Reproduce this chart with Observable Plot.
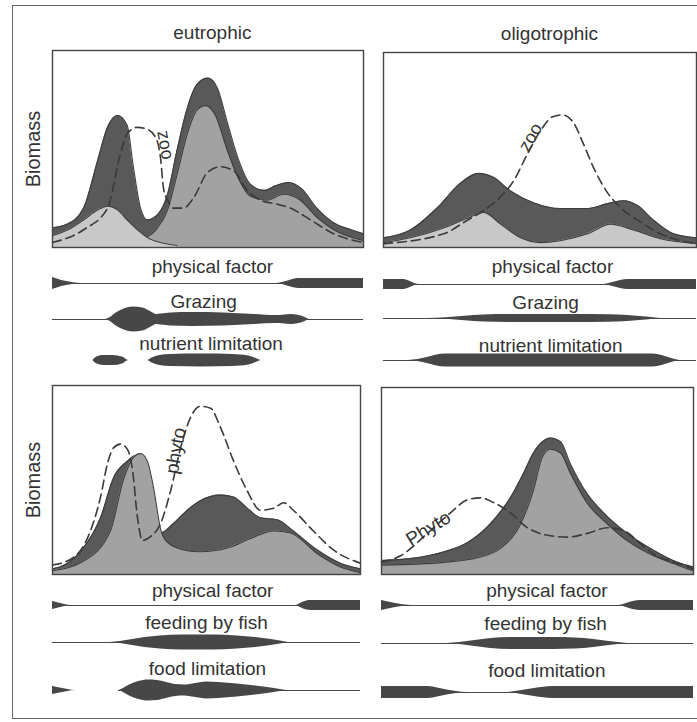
<!DOCTYPE html>
<html>
<head>
<meta charset="utf-8">
<script src="https://cdn.jsdelivr.net/npm/d3@7"></script>
<script src="https://cdn.jsdelivr.net/npm/@observablehq/plot@0.6"></script>
<style>
  body { margin: 0; background: #fff; }
  #c { position: relative; width: 697px; height: 722px; overflow: hidden; background: #fff;
       font-family: "Liberation Sans", Arial, sans-serif; }
  #border { position: absolute; left: 12px; top: 5px; width: 700px; height: 712px; border: 1px solid #666; }
</style>
</head>
<body>
<div id="c"><div id="border"></div></div>
<script>
// ---------- DATA (x = season 0..100, y = biomass 0..100) ----------
// Top-left: eutrophic, phytoplankton
const eutroPhytoTotal = [[0,10],[5,12],[10,20],[14.5,44],[17.7,61],[21,67],[24,62],[26,41],[28.3,20],[30.5,14],[34,17],[37,27],[40,49],[43.4,71],[46.6,83],[50,86],[53,81],[56.3,63],[59.5,46],[63.7,32],[68,29],[72,31.5],[76,33],[80,30],[85,20],[90,13],[96,9],[100,7]];
const eutroPhytoLarge = [[0,2.5],[15,3.5],[29.3,5],[33.8,10],[37,19],[40.2,38],[43.4,58],[46.6,70],[49.2,72],[52.4,67],[56.3,49],[59.5,36],[63.7,26],[69,24],[74.3,27],[79.7,24],[85.2,15],[90.4,9],[100,3.5]];
const eutroPhytoSmall = [[0,6],[5,9],[10,14],[14.5,19],[17.7,21],[21,19],[24,14],[27.3,9],[30.5,5],[34.7,2.5],[40,1]];
const eutroZooLine = [[0,2.5],[10,9],[17.7,20],[21.9,48],[24.1,58],[27.3,61],[30.5,60],[33.1,56],[34.7,46],[35.7,30],[37,24],[38.9,20],[42.1,20],[45.3,25],[49.8,38],[54,41],[58.2,39],[62.7,29],[66.9,24],[72.3,22],[76.5,20],[83,14],[90.4,7],[100,2.5]];

// Top-right: oligotrophic, phytoplankton
const oligoPhytoTotal = [[0,5],[8.6,9],[17.3,20.5],[24.6,33],[30.4,38],[35.1,36],[40.6,29],[47.9,23],[56.5,20],[65.2,20],[71.6,22.5],[76.7,24],[81.2,21.5],[86.3,14],[92.7,7],[100,5]];
const oligoPhytoSmall = [[0,2.5],[8.6,5],[19.2,10],[26.8,15],[32,18],[37.4,12],[43.8,5],[50.2,2.5],[56.5,3.5],[65.2,7],[72.5,12],[79.9,9],[88.5,4.5],[100,2]];
const oligoZooLine = [[0,2],[19.2,7],[26.8,14],[32,19],[37.4,26],[41.5,34],[46,48],[50.2,60],[54,67],[57.2,68],[60.7,64],[63.9,53],[67.1,41],[71.6,28],[75.7,20.5],[81.2,14],[88.5,7],[94.9,3.5],[100,2]];

// Bottom-left: eutrophic, zooplankton
const eutroZooTotal = [[0,3],[4.9,6],[10,14],[15.6,30],[19.8,51],[24.4,60],[27,63],[29,60],[31,45],[33,30],[35.1,22],[39.3,27],[43.8,34],[48,39],[54.5,42],[58.8,41],[63.3,35],[67.5,30],[73,29],[78.2,23],[86,13],[93.5,6],[100,3]];
const eutroZooLarge = [[0,2],[10,7],[18.8,23],[23,50],[26.3,62],[28.6,64],[30.8,60],[32.8,46],[35.1,24],[37.3,17],[42.5,13],[48,12],[56.8,14],[64.3,19],[71.8,23],[77.3,22],[86,11],[93.5,4],[100,1]];
const eutroPhytoLine = [[0,5],[6.8,9],[12.3,23],[15.6,41],[17.9,59],[19.8,67],[22,69],[24.4,66],[26,55],[27.6,30],[29.2,18],[31.8,20],[35.1,27],[38.3,44],[41.6,67],[44.8,83],[48,89],[51.3,88],[54.5,78],[58.8,60],[63.3,44],[67.5,34],[71.8,35],[75,38],[78.2,34],[84.7,23],[91.2,13],[100,6]];

// Bottom-right: oligotrophic, zooplankton
const oligoZooTotal = [[0,7.5],[9.3,8.5],[19.9,12],[28.5,18],[35.9,29],[41.3,41],[45.5,54],[48.7,65],[51.6,71],[54.2,73],[57.4,71],[60.6,59],[66,43],[71.2,33],[78.8,22],[87.2,13],[94.9,6.5],[100,4]];
const oligoZooLarge = [[0,5],[19.9,6.5],[30.8,9],[38.1,14],[44.6,27],[48.7,45],[51.6,63],[54.2,67],[57.4,65],[60.6,54],[66,38],[72.4,27],[78.8,18],[87.2,10],[94.9,5],[100,2]];
const oligoPhytoLine = [[0,6.5],[6.1,10],[14.7,22],[22.1,33],[27.6,40],[31.7,41],[35.9,38.5],[41.3,33],[46.8,25],[53.2,21],[59.6,20],[66,22],[72.4,25],[77.6,23.5],[83,16.5],[87.2,11],[94.9,6],[100,3]];

// Factor bands: [season, half-thickness]
const eutroPhysical = [[0,6],[3,3],[6,1.2],[9,0],[72,0],[74.5,1.5],[77,3.8],[79,5],[100,5]];
const eutroGrazing = [[17,0],[18.6,2],[20.5,6.5],[23,10.5],[26,12.5],[29,11.5],[31.5,8],[33.5,5],[35,5.5],[38,6.5],[45,7],[55,6.5],[65,5],[72,4],[74,4.2],[77,5],[80,3.5],[82.5,0]];
const eutroNutrient = [[13,0],[14,3],[16.5,5],[19.5,5],[22.5,3.5],[24.5,0],[30.5,0],[32,2.5],[34.5,5],[38,6],[48,6.5],[58,6],[63,4.5],[65.5,2],[67,0]];
const oligoPhysical = [[0,5],[6.5,5],[8.5,3],[10,1],[11.5,0],[70,0],[72,1],[74.5,3],[77,4.7],[79,5],[100,5]];
const oligoGrazing = [[14,0],[20,0.8],[26,2.3],[32,3.5],[40,4],[60,4],[72,3.7],[78,3],[84,1.5],[88.5,0]];
const oligoNutrient = [[8,0],[11,1],[14,3],[17,5.5],[20,6.5],[86,6.5],[89,5],[92,2],[94.5,0]];
const eutroZooPhysical = [[0,4],[2,2.5],[4,1],[6,0],[79,0],[80.5,2],[82.5,4.5],[84,5],[100,5]];
const eutroFish = [[18.8,0],[22,1],[26,3],[30,5],[35,6.5],[42,7.5],[52,7.5],[60,6.5],[66,5],[71,3],[74,1.5],[76.5,0]];
const eutroFood = [[0,4],[2.5,2.5],[5,1],[7.5,0],[21.4,0],[23,2],[25,5.5],[28,9],[31,10.5],[34,10],[37,8],[40,6],[43,5.5],[46,6.8],[50,8.5],[54,8],[60,6.5],[66,4.5],[71,2.5],[76,0]];
const oligoZooPhysical = [[0,5],[3,3],[6,1.2],[9.5,0],[76,0],[78,1.5],[80,3.5],[82,4.7],[84,5],[100,5]];
const oligoFish = [[21,0],[25,1],[30,3],[35,5],[42,6],[55,6],[62,5.5],[68,4],[73,2],[78.8,0]];
const oligoFood = [[0,6],[15,6],[18,4.5],[21,2.5],[24,1],[27.5,0],[40,0],[44,1.5],[48,3.5],[52,5.2],[55,6],[100,6]];

// Thin base lines under each band: [from, to]
const fullLine = [[0,100]];
const noLine = [];
const eutroFoodLine = [[21.4,100]];

// Text
const titles = ["eutrophic", "oligotrophic"];
const yLabel = "Biomass";

// ---------- STYLE / LAYOUT ----------
const FONT = "Liberation Sans, Arial, Helvetica, sans-serif";
const C = {dark: "#595959", mid: "#a2a2a2", light: "#c8c8c8", ink: "#333", band: "#474747", edge: "#3d3d3d"};
const host = document.getElementById("c");
function mount(svg, left, top) {
  svg.style.position = "absolute";
  svg.style.left = left + "px";
  svg.style.top = top + "px";
  host.appendChild(svg);
}
const X = d => d[0], Y = d => d[1];
const curve = "monotone-x";

function area(data, fill) {
  return [
    Plot.areaY(data, {x: X, y: Y, fill, curve}),
    Plot.lineY(data, {x: X, y: Y, stroke: C.edge, strokeWidth: 1.1, curve})
  ];
}
function dashed(data) {
  return Plot.lineY(data, {x: X, y: Y, stroke: "#3a3a3a", strokeWidth: 1.6, strokeDasharray: "9,5", curve});
}

function panel(g, layers, extra, withYLabel) {
  const svg = Plot.plot({
    width: g.w, height: g.h,
    marginLeft: g.mL, marginRight: g.mR, marginTop: g.mT, marginBottom: g.mB,
    x: {domain: [0, 100], axis: null},
    y: {domain: [0, 100], axis: null},
    style: {background: "transparent", overflow: "visible", fontFamily: FONT},
    marks: [
      ...layers,
      ...extra,
      withYLabel ? Plot.text([yLabel], {frameAnchor: "left", dx: -18.5, rotate: -90, fontSize: 20, fill: C.ink,
                                          textAnchor: "middle", lineAnchor: "middle"}) : null,
      Plot.frame({stroke: "#444", strokeWidth: 1.4})
    ]
  });
  mount(svg, g.left, g.top);
}

function title(t, x, dy) {
  return Plot.text([t], {x: () => x, frameAnchor: "top", dy, fontSize: 19, fill: C.ink,
                         textAnchor: "middle", lineAnchor: "middle"});
}

function bandRow(g, bandY, band, base, label, labelX, labelUp) {
  const svg = Plot.plot({
    width: g.w, height: 48,
    marginLeft: g.mL, marginRight: g.mR, marginTop: 0, marginBottom: 0,
    x: {domain: [0, 100], axis: null},
    y: {domain: [-18, 30], axis: null},
    style: {background: "transparent", overflow: "visible", fontFamily: FONT},
    marks: [
      Plot.ruleY(base, {y: () => 0, x1: X, x2: Y, stroke: C.band, strokeWidth: 1.2}),
      Plot.areaY(band, {x: X, y1: d => -d[1], y2: d => d[1], fill: C.band, curve}),
      Plot.text([label], {x: () => labelX, y: () => labelUp, text: d => d, fontSize: 19, fill: C.ink})
    ]
  });
  mount(svg, g.left, bandY - 30);
}

// panel geometries
const gTL = {left: 0,   top: 10,  w: 370, h: 240, mL: 52, mR: 7,  mT: 40, mB: 3};
const gTR = {left: 370, top: 10,  w: 327, h: 240, mL: 13, mR: 1,  mT: 42, mB: 3};
const gBL = {left: 0,   top: 345, w: 370, h: 232, mL: 52, mR: 10, mT: 40, mB: 3};
const gBR = {left: 370, top: 345, w: 327, h: 232, mL: 11, mR: 4,  mT: 42, mB: 3};

// ---------- PANELS ----------
panel(gTL,
  [...area(eutroPhytoTotal, C.dark), ...area(eutroPhytoLarge, C.mid), ...area(eutroPhytoSmall, C.light), dashed(eutroZooLine)],
  [title(titles[0], 51.4, -18),
   Plot.text(["zoo"], {x: () => 36.3, y: () => 52, rotate: 80, fontSize: 18, fill: C.ink})], true);

panel(gTR,
  [...area(oligoPhytoTotal, C.dark), ...area(oligoPhytoSmall, C.light), dashed(oligoZooLine)],
  [title(titles[1], 53, -19),
   Plot.text(["zoo"], {x: () => 47, y: () => 56.5, rotate: -60, fontSize: 18, fill: C.ink})], false);

panel(gBL,
  [...area(eutroZooTotal, C.dark), ...area(eutroZooLarge, C.mid), dashed(eutroPhytoLine)],
  [Plot.text(["phyto"], {x: () => 40, y: () => 65.5, rotate: -80, fontSize: 19, fill: C.ink})], true);

panel(gBR,
  [...area(oligoZooTotal, C.dark), ...area(oligoZooLarge, C.mid), dashed(oligoPhytoLine)],
  [Plot.text(["Phyto"], {x: () => 15, y: () => 24.6, rotate: -32, fontSize: 19, fill: C.ink})], false);

// ---------- FACTOR BANDS ----------
bandRow(gTL, 283, eutroPhysical, fullLine, "physical factor", 51.4, 17);
bandRow(gTL, 319, eutroGrazing, fullLine, "Grazing", 48.6, 18);
bandRow(gTL, 360, eutroNutrient, noLine, "nutrient limitation", 51, 17);
bandRow(gTR, 284, oligoPhysical, fullLine, "physical factor", 54, 18);
bandRow(gTR, 318, oligoGrazing, fullLine, "Grazing", 51.8, 16);
bandRow(gTR, 360, oligoNutrient, fullLine, "nutrient limitation", 53.4, 15);

bandRow(gBL, 605, eutroZooPhysical, fullLine, "physical factor", 52, 15);
bandRow(gBL, 642, eutroFish, fullLine, "feeding by fish", 50, 20);
bandRow(gBL, 690, eutroFood, eutroFoodLine, "food limitation", 50.3, 22);
bandRow(gBR, 605, oligoZooPhysical, fullLine, "physical factor", 53, 15);
bandRow(gBR, 643, oligoFish, fullLine, "feeding by fish", 52.6, 20);
bandRow(gBR, 692, oligoFood, fullLine, "food limitation", 53, 22);
</script>
</body>
</html>
